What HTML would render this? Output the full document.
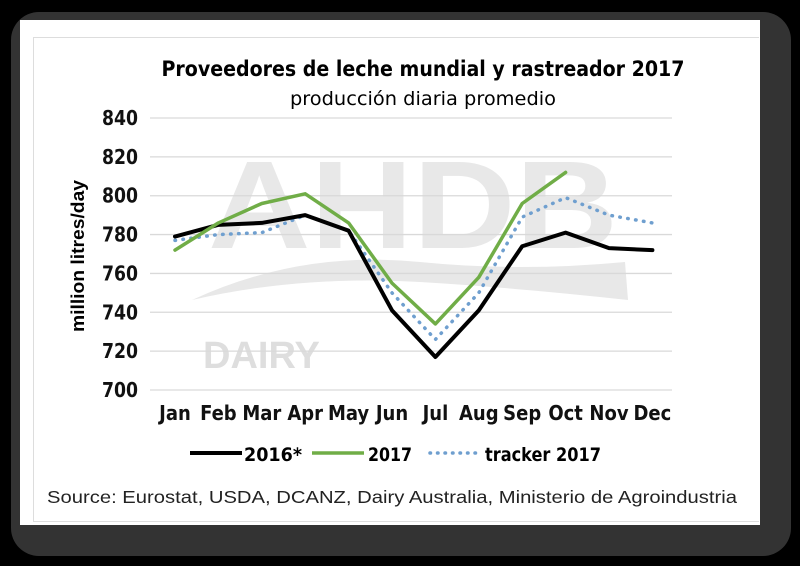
<!DOCTYPE html>
<html><head><meta charset="utf-8"><style>
body{margin:0;width:800px;height:566px;background:#000;overflow:hidden;position:relative;font-family:"Liberation Sans",sans-serif}
#frame{position:absolute;left:11px;top:12px;width:780px;height:544px;background:#333;border-radius:28px}
#card{position:absolute;left:20px;top:20px;width:740px;height:505px;background:#fff}
#inner{position:absolute;left:33px;top:37px;width:726px;height:485px;border:1.5px solid #ddd;border-right:none;box-sizing:border-box}
.nar{font-family:"Liberation Sans Narrow","DejaVu Sans Condensed","Liberation Sans",sans-serif}
</style></head><body>
<div id="frame"></div>
<div id="card"></div>
<div id="inner"></div>
<svg width="800" height="566" style="position:absolute;left:0;top:0">
<g id="wm" fill="#e8e8e8">
<text x="208" y="248" font-size="125" font-weight="bold" font-family="Liberation Sans" textLength="410" lengthAdjust="spacingAndGlyphs">AHDB</text>
<path d="M192 300 Q300 250 420 262 Q520 272 625 262 L628 300 Q520 288 420 282 Q300 275 192 300Z"/>
<text x="203" y="368" font-size="38" font-weight="bold" font-family="Liberation Sans" fill="#dedede">DAIRY</text>
</g>
<text x="423" y="76" text-anchor="middle" font-size="21" font-weight="bold" fill="#000" class="nar" textLength="523" lengthAdjust="spacingAndGlyphs">Proveedores de leche mundial y rastreador 2017</text>
<text x="423" y="105" text-anchor="middle" font-size="19" fill="#000" class="nar" textLength="266" lengthAdjust="spacingAndGlyphs">producción diaria promedio</text>
<g id="grid"></g><g id="ylab"></g><g id="xlab"></g><g id="series"></g>
<text transform="translate(84,256) rotate(-90)" text-anchor="middle" font-size="18" font-weight="bold" textLength="152" lengthAdjust="spacingAndGlyphs">million litres/day</text>
<g font-size="19" font-weight="bold" class="nar">
<line x1="190" y1="453" x2="242" y2="453" stroke="#000" stroke-width="4"/>
<text x="244" y="461" textLength="58" lengthAdjust="spacingAndGlyphs">2016*</text>
<line x1="312" y1="453" x2="364" y2="453" stroke="#70ad47" stroke-width="3.5"/>
<text x="368" y="461" textLength="44" lengthAdjust="spacingAndGlyphs">2017</text>
<line x1="430" y1="453" x2="478" y2="453" stroke="#6f9fcf" stroke-width="3.5" stroke-dasharray="0.5,7" stroke-linecap="round"/>
<text x="485" y="461" textLength="116" lengthAdjust="spacingAndGlyphs">tracker 2017</text>
</g>
<text x="47" y="503" font-size="17.5" fill="#222" textLength="690" lengthAdjust="spacingAndGlyphs">Source: Eurostat, USDA, DCANZ,  Dairy Australia, Ministerio de Agroindustria</text>
</svg>
<script>
const months=["Jan","Feb","Mar","Apr","May","Jun","Jul","Aug","Sep","Oct","Nov","Dec"];
const yTicks=[700,720,740,760,780,800,820,840];
const s2016=[779,785,786,790,782,741,717,741,774,781,773,772];
const s2017=[772,786,796,801,786,755,734,758,796,812];
const tracker=[777,780,781,790,782,750,726,750,789,799,790,786];
const NS="http://www.w3.org/2000/svg";
const x=i=>175+i*43.4;
const y=v=>390-(v-700)*272/140;
function mk(t,a,p){const e=document.createElementNS(NS,t);for(const k in a)e.setAttribute(k,a[k]);p.appendChild(e);return e;}
const grid=document.getElementById('grid'),yl=document.getElementById('ylab'),xl=document.getElementById('xlab'),se=document.getElementById('series');
yTicks.forEach(v=>{
 const l=mk('line',{x1:150,x2:672,y1:y(v),y2:y(v),stroke:'#d9d9d9','stroke-width':1.3},grid);
 
 
 const t=mk('text',{x:138,y:y(v)+7,'text-anchor':'end','font-size':20,'font-weight':'bold',fill:'#111','class':'nar',textLength:36,lengthAdjust:'spacingAndGlyphs'},yl);
 t.textContent=v;
 
 
});
months.forEach((m,i)=>{
 const t=mk('text',{x:x(i),y:420,'text-anchor':'middle','font-size':20,'font-weight':'bold',fill:'#111','class':'nar'},xl);
 t.textContent=m;
 
 
});
function line(d,st,w,dash,name){
 const p=mk('polyline',{points:d.map((v,i)=>x(i)+','+y(v)).join(' '),fill:'none',stroke:st,'stroke-width':w,'stroke-linejoin':'round','stroke-linecap':'round'},se);
 if(dash)p.setAttribute('stroke-dasharray',dash);
 
 
}
line(tracker,'#6f9fcf',3.5,'0.5,7.5','series-tracker-2017');
line(s2016,'#000',4,null,'series-2016');
line(s2017,'#70ad47',3.5,null,'series-2017');
</script>
</body></html>
